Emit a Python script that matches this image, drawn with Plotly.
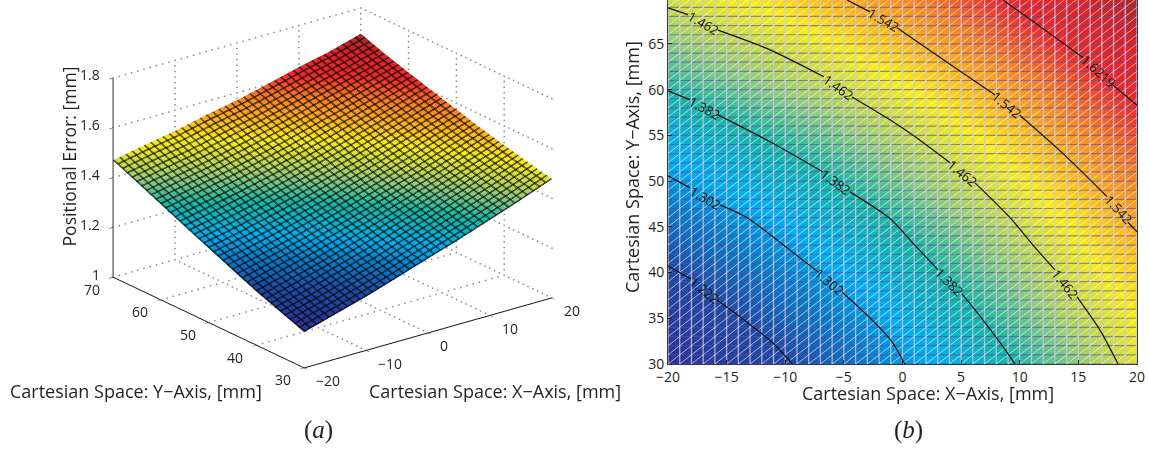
import plotly.graph_objects as go

# Cartesian grid positions
x_vals = [-20, -15, -10, -5, 0, 5, 10, 15, 20]
y_vals = [30, 35, 40, 45, 50, 55, 60, 65, 70]

# Positional error estimated from the contour lines, one list per y row
z_y30 = [1.145, 1.181, 1.217, 1.258, 1.300, 1.341, 1.385, 1.430, 1.478]
z_y35 = [1.181, 1.213, 1.250, 1.286, 1.329, 1.368, 1.411, 1.454, 1.500]
z_y40 = [1.217, 1.250, 1.283, 1.320, 1.358, 1.397, 1.437, 1.479, 1.5225]
z_y45 = [1.258, 1.287, 1.318, 1.353, 1.388, 1.426, 1.464, 1.506, 1.547]
z_y50 = [1.300, 1.326, 1.356, 1.387, 1.422, 1.457, 1.496, 1.535, 1.575]
z_y55 = [1.342, 1.368, 1.395, 1.425, 1.457, 1.491, 1.528, 1.565, 1.603]
z_y60 = [1.385, 1.410, 1.435, 1.463, 1.494, 1.528, 1.562, 1.597, 1.632]
z_y65 = [1.428, 1.452, 1.475, 1.504, 1.532, 1.564, 1.597, 1.629, 1.662]
z_y70 = [1.470, 1.495, 1.517, 1.546, 1.570, 1.601, 1.633, 1.661, 1.697]
z_rows = [z_y30, z_y35, z_y40, z_y45, z_y50, z_y55, z_y60, z_y65, z_y70]

x_ticks_3d = [-20, -10, 0, 10, 20]
y_ticks_3d = [30, 40, 50, 60, 70]
z_ticks_3d = [1, 1.2, 1.4, 1.6, 1.8]
x_labels_3d = ["\u221220", "\u221210", "0", "10", "20"]
y_labels_3d = ["30", "40", "50", "60", "70"]
z_labels_3d = ["1", "1.2", "1.4", "1.6", "1.8"]
x_ticks_2d = [-20, -15, -10, -5, 0, 5, 10, 15, 20]
y_ticks_2d = [30, 35, 40, 45, 50, 55, 60, 65]

# Contour lines; None marks the gap left for a label
c1222_x = [-20, -18.04, None, -15.82, -14.29, -12.75, -11.04, -9.4]
c1222_y = [40.7, 39.3, None, 37.0, 35.58, 34.05, 32.3, 30]
c1302_x = [-20, -18.12, None, -15.56, -13.26, -9.85, -7.2, None, -5.16, -3.03, -1.0, 0.2]
c1302_y = [50.57, 49.26, None, 47.4, 46.0, 42.7, 40.07, None, 37.88, 35.36, 32.6, 30]
c1382_x = [-20, -18.12, None, -15.74, -11.3, -6.78, None, -4.48, -1.07, 0.9, 3.03, None, 5.07, 6.87, 8.57, 9.6]
c1382_y = [59.87, 58.88, None, 57.24, 54.3, 51.0, None, 48.82, 45.9, 43.2, 40.3, None, 37.66, 34.8, 31.9, 30]
c1462_x = [-20, -18.3, None, -15.74, -11.3, -6.7, None, -4.3, -1.07, 0.9, 4.05, None, 6.18, 9.17, 11.13, 13, None, 14.88, 16.84, 18.38]
c1462_y = [68.95, 68.2, None, 66.5, 64.35, 61.4, None, 59.2, 56.7, 55, 52, None, 49.8, 46, 43, 40.3, None, 37.33, 33.7, 30]
c1542_x = [-4.73, -2.77, None, -0.47, 3.8, 7.9, None, 10, 13.7, 17.44, None, 19.23, 20]
c1542_y = [69.8, 68.5, None, 66.76, 63, 59.4, None, 57.2, 53, 48.3, None, 45.5, 44.44]
c1622_x = [8.57, 11.73, 15.4, None, 17.95, 20]
c1622_y = [69.8, 66.9, 63.5, None, 60.5, 58.3]
contour_x = [c1222_x, c1302_x, c1382_x, c1462_x, c1542_x, c1622_x]
contour_y = [c1222_y, c1302_y, c1382_y, c1462_y, c1542_y, c1622_y]

# Contour label text and where each one sits (x, y, angle)
label_text = ["1.222", "1.302", "1.302", "1.382", "1.382", "1.382", "1.462", "1.462", "1.462", "1.462",
              "1.542", "1.542", "1.542", "1.6219"]
label_x = [-16.9, -16.8, -6.2, -16.9, -5.7, 4.0, -17.0, -5.5, 5.1, 13.9, -1.6, 8.9, 18.4, 16.7]
label_y = [38.1, 48.2, 39.0, 58.0, 49.9, 39.0, 67.3, 60.3, 50.9, 38.8, 67.6, 58.3, 46.9, 62.0]
label_angle = [39, 30, 40, 28, 36, 45, 30, 35, 39, 51, 30, 39, 47, 42]

FONT = "Open Sans"
INK = "#231f20"
colour_z = [1.145, 1.222, 1.280, 1.320, 1.382, 1.430, 1.462, 1.500, 1.540, 1.580, 1.620, 1.660, 1.700]
colour_c = ["#2e3192", "#1f4aa3", "#0a7fc8", "#00aeef", "#19b6a5", "#8fca7e", "#c8da4a", "#f7ec1c",
            "#fbb21f", "#f47b28", "#ec2a2c", "#d8232a", "#9e2a2b"]
zmin, zmax = colour_z[0], colour_z[-1]
colorscale = [[(v - zmin) / (zmax - zmin), c] for v, c in zip(colour_z, colour_c)]

fig = go.Figure()

# ---------- (a) surface ----------
# Drawn twice with a hair of offset between mesh lines, which gives the mesh its heavier weight
for off in [0.0, 0.14]:
    fig.add_trace(go.Surface(
        x=x_vals, y=y_vals, z=z_rows, colorscale=colorscale, cmin=zmin, cmax=zmax,
        showscale=False,
        lighting=dict(ambient=1, diffuse=0, specular=0, fresnel=0, roughness=1),
        contours=dict(
            x=dict(show=True, start=-20 + off, end=20, size=1, color="#000000", width=2),
            y=dict(show=True, start=30 + off, end=70, size=1, color="#000000", width=2),
        ),
        hoverinfo="skip",
    ))

# dotted wall and floor grid taken from the tick lists, one dot per axis step
gx, gy, gz = [], [], []
xa, xb = x_ticks_3d[0], x_ticks_3d[-1]
ya, yb = y_ticks_3d[0], y_ticks_3d[-1]
za, zb = z_ticks_3d[0], z_ticks_3d[-1]
def dots(p, q, n):
    for k in range(n + 1):
        f = k / n
        gx.append(p[0] + (q[0] - p[0]) * f); gy.append(p[1] + (q[1] - p[1]) * f); gz.append(p[2] + (q[2] - p[2]) * f)
for t in x_ticks_3d:
    if t != xa:
        dots((t, ya, za), (t, yb, za), 40)
        dots((t, yb, za), (t, yb, zb), 36)
for t in y_ticks_3d:
    if t != ya:
        dots((xa, t, za), (xb, t, za), 40)
        dots((xb, t, za), (xb, t, zb), 36)
for t in z_ticks_3d:
    dots((xa, yb, t), (xb, yb, t), 40)
    dots((xb, yb, t), (xb, ya, t), 40)
fig.add_trace(go.Scatter3d(x=gx, y=gy, z=gz, mode="markers", hoverinfo="skip", showlegend=False,
                           marker=dict(color="#8a8a8a", size=1.0, line=dict(width=0))))

def axis3d(ticks, rng):
    return dict(title=dict(text=""), range=rng, tickvals=ticks, showticklabels=False,
                showgrid=False, zeroline=False,
                showbackground=False, showline=True, linecolor="#111111", linewidth=2,
                ticks="outside", ticklen=5, tickcolor="#111111", showspikes=False)

tick_font = dict(family=FONT, size=14, color=INK)
scene_notes = []
for t, s in zip(x_ticks_3d, x_labels_3d):
    scene_notes.append(dict(x=t, y=ya, z=za, text=s, showarrow=False, xanchor="left", yanchor="middle",
                            xshift=10, yshift=-13, font=tick_font))
for t, s in zip(y_ticks_3d, y_labels_3d):
    scene_notes.append(dict(x=xa, y=t, z=za, text=s, showarrow=False, xanchor="right", yanchor="middle",
                            xshift=-11, yshift=-12, font=tick_font))
for t, s in zip(z_ticks_3d, z_labels_3d):
    scene_notes.append(dict(x=xa, y=yb, z=t, text=s, showarrow=False, xanchor="right", yanchor="middle",
                            xshift=-11, yshift=3, font=tick_font))

R = 1.5
S = 1.49
fig.update_layout(
    width=1149, height=452, paper_bgcolor="white", plot_bgcolor="white", showlegend=False,
    margin=dict(l=0, r=0, t=0, b=0),
    scene=dict(
        domain=dict(x=[0, 0.5787], y=[32 / 452, 1.0]),
        xaxis=axis3d(x_ticks_3d, [-20, 20]),
        yaxis=axis3d(y_ticks_3d, [30, 70]),
        zaxis=axis3d(z_ticks_3d, [1, 1.8]),
        aspectmode="manual", aspectratio=dict(x=S, y=S, z=0.684 * S),
        annotations=scene_notes,
        camera=dict(projection=dict(type="orthographic"),
                    up=dict(x=0, y=0, z=1), center=dict(x=0, y=0, z=-0.113),
                    eye=dict(x=-0.5686 * R, y=-0.737 * R, z=0.3667 * R - 0.113)),
    ),
    xaxis=dict(domain=[668 / 1149, 1137 / 1149], range=[-20, 20], tickvals=x_ticks_2d, automargin=False,
               ticks="inside", ticklen=4, tickcolor=INK, showgrid=False, zeroline=False,
               showline=True, mirror=True, linecolor="#3a3a3a", linewidth=1,
               tickfont=dict(family=FONT, size=14, color=INK)),
    yaxis=dict(domain=[88 / 452, 1.0], range=[30, 69.8], tickvals=y_ticks_2d, automargin=False,
               ticks="inside", ticklen=4, tickcolor=INK, showgrid=False, zeroline=False,
               showline=True, mirror=True, linecolor="#3a3a3a", linewidth=1,
               tickfont=dict(family=FONT, size=14, color=INK)),
)

# ---------- (b) filled map ----------
fig.add_trace(go.Heatmap(x=x_vals, y=y_vals, z=z_rows, colorscale=colorscale, zmin=zmin, zmax=zmax,
                         zsmooth="best", showscale=False, hoverinfo="skip"))

# mesh overlay, one unit per cell
hx, hy, vx, vy, dx, dy = [], [], [], [], [], []
for k in range(30, 71):
    hx += [-20, 20, None]; hy += [k, k, None]
for k in range(-20, 21):
    vx += [k, k, None]; vy += [30, 70, None]
for i in range(-20, 20):
    for j in range(30, 70):
        dx += [i, i + 1, None]; dy += [j, j + 1, None]
fig.add_trace(go.Scatter(x=hx, y=hy, mode="lines", hoverinfo="skip",
                         line=dict(color="rgba(80,80,170,0.6)", width=1.2)))
fig.add_trace(go.Scatter(x=vx, y=vy, mode="lines", hoverinfo="skip",
                         line=dict(color="rgba(205,200,230,0.8)", width=1.3)))
fig.add_trace(go.Scatter(x=dx, y=dy, mode="lines", hoverinfo="skip",
                         line=dict(color="rgba(255,255,255,0.75)", width=0.8)))

for cx, cy in zip(contour_x, contour_y):
    fig.add_trace(go.Scatter(x=cx, y=cy, mode="lines", hoverinfo="skip",
                             line=dict(color="#111111", width=1.2, shape="spline", smoothing=0.8)))
for txt, lx, ly, la in zip(label_text, label_x, label_y, label_angle):
    fig.add_annotation(text=txt, x=lx, y=ly, xref="x", yref="y", showarrow=False, textangle=la,
                       xanchor="center", yanchor="middle",
                       font=dict(family=FONT, size=13, color="#111111"))

# ---------- titles and captions ----------
def note(text, px, py, size=18, angle=0, family=FONT):
    fig.add_annotation(text=text, x=px / 1149, y=1 - py / 452, xref="paper", yref="paper",
                       showarrow=False, textangle=angle, xanchor="center", yanchor="middle",
                       font=dict(family=family, size=size, color=INK))

note("Cartesian Space: Y\u2212Axis, [mm]", 136, 391)
note("Cartesian Space: X\u2212Axis, [mm]", 495, 391)
note("Positional Error: [mm]", 68, 156.5, size=17.6, angle=-90)
note("Cartesian Space: X\u2212Axis, [mm]", 928, 393)
note("Cartesian Space: Y\u2212Axis, [mm]", 632, 167, angle=-90)
note("(<i>a</i>)", 318, 430, size=25, family="Liberation Serif")
note("(<i>b</i>)", 908, 430, size=25, family="Liberation Serif")

fig.write_html("out.html", post_script="document.body.style.margin='0';", config={"displayModeBar": False})
